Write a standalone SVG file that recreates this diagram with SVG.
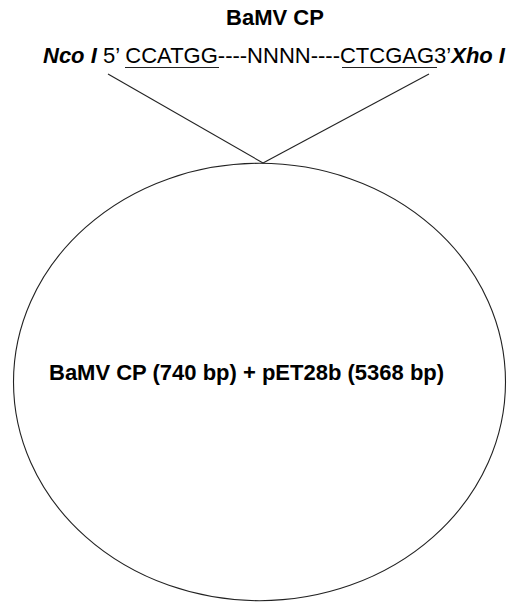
<svg xmlns="http://www.w3.org/2000/svg" width="512" height="602" viewBox="0 0 512 602">
  <style>
    text { font-family: "Liberation Sans", Arial, sans-serif; font-size: 22px; fill: #000; }
    .bold { font-weight: bold; }
    .bi { font-weight: bold; font-style: italic; }
    .stroke { stroke: #222; stroke-width: 1.1; fill: none; }
    .uline { stroke: #222; stroke-width: 1.2; }
  </style>
  <rect width="512" height="602" fill="#fff"/>

  <!-- insert title -->
  <g id="insert-title">
    <text class="bold" x="275" y="25" text-anchor="middle">BaMV CP</text>
  </g>

  <!-- insert sequence with restriction sites -->
  <g id="insert-sequence">
    <text x="43" y="63"><tspan class="bi">Nco I</tspan> 5’ CCATGG----NNNN----CTCGAG3’<tspan class="bi">Xho I</tspan></text>
    <line class="uline" x1="125" y1="67.5" x2="219" y2="67.5"/>
    <line class="uline" x1="342" y1="67.5" x2="437" y2="67.5"/>
  </g>

  <!-- plasmid -->
  <g id="plasmid">
    <ellipse class="stroke" cx="259.5" cy="382" rx="246" ry="218.7"/>
    <text class="bold" x="49" y="380">BaMV CP (740 bp) + pET28b (5368 bp)</text>
  </g>

  <!-- insertion lines -->
  <g id="connectors">
    <line class="stroke" x1="108" y1="74" x2="263" y2="163"/>
    <line class="stroke" x1="429" y1="74" x2="263" y2="163"/>
  </g>
</svg>
